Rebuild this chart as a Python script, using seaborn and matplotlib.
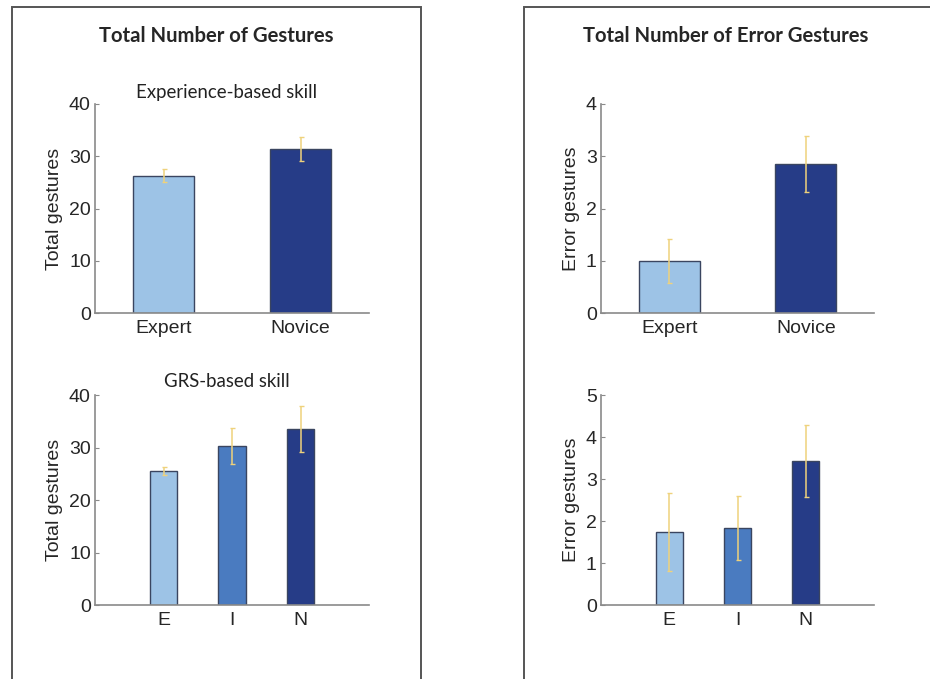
import matplotlib
matplotlib.use("Agg")
import matplotlib.pyplot as plt
from matplotlib.patches import Rectangle
import seaborn as sns
import pandas as pd

# Experience-based skill groups
exp_groups = ["Expert", "Novice"]
exp_total = [26.3, 31.3]
exp_total_err = [1.2, 2.3]
exp_error = [1.0, 2.85]
exp_error_err = [0.42, 0.54]

# GRS-based skill groups
grs_groups = ["E", "I", "N"]
grs_total = [25.6, 30.3, 33.5]
grs_total_err = [0.75, 3.4, 4.35]
grs_error = [1.73, 1.83, 3.43]
grs_error_err = [0.93, 0.76, 0.86]

panel_titles = ["Total Number of Gestures", "Total Number of Error Gestures"]
row_titles = ["Experience-based skill", "GRS-based skill"]

light, mid, dark = "#9DC3E6", "#4A7BC0", "#263C87"
exp_palette = [light, dark]
grs_palette = [light, mid, dark]

sns.set_style("white")
plt.rcParams["font.family"] = ["Liberation Sans", "DejaVu Sans"]

fig = plt.figure(figsize=(9.3, 6.79), dpi=100)
W, H = 930, 679
FS = 14


def px_axes(x0, x1, ytop, ybot):
    return fig.add_axes([x0 / W, 1 - ybot / H, (x1 - x0) / W, (ybot - ytop) / H])


def draw(ax, groups, vals, errs, palette, width, ymax, ylabel, xlim):
    df = pd.DataFrame({"group": groups, "value": vals})
    sns.barplot(data=df, x="group", y="value", hue="group", order=groups,
                hue_order=groups, palette=palette, saturation=1, width=width,
                edgecolor="#3A4560", linewidth=1.0, errorbar=None,
                legend=False, ax=ax)
    ax.errorbar(range(len(groups)), vals, yerr=errs, fmt="none",
                ecolor="#EFD27C", elinewidth=1.1, capsize=1.8, capthick=1.0,
                zorder=5)
    ax.set_xlim(*xlim)
    ax.set_ylim(0, ymax)
    step = 10 if ymax > 10 else 1
    ax.set_yticks(range(0, ymax + 1, step))
    ax.set_xlabel("")
    ax.set_ylabel(ylabel, fontsize=FS, labelpad=4)
    for side in ("top", "right"):
        ax.spines[side].set_visible(False)
    for side in ("left", "bottom"):
        ax.spines[side].set_color("#8A8A8A")
        ax.spines[side].set_linewidth(1.2)
    ax.tick_params(axis="y", direction="in", length=3, color="#8A8A8A",
                   labelsize=FS, pad=3, left=True)
    ax.tick_params(axis="x", length=0, labelsize=FS, pad=5)
    ax.set_facecolor("white")


ax1 = px_axes(95, 369, 104, 313)
draw(ax1, exp_groups, exp_total, exp_total_err, exp_palette, 0.45, 40,
     "Total gestures", (-0.5, 1.5))
ax2 = px_axes(601, 874, 104, 313)
draw(ax2, exp_groups, exp_error, exp_error_err, exp_palette, 0.45, 4,
     "Error gestures", (-0.5, 1.5))
ax3 = px_axes(95, 369, 395, 605)
draw(ax3, grs_groups, grs_total, grs_total_err, grs_palette, 0.4, 40,
     "Total gestures", (-1, 3))
ax4 = px_axes(601, 874, 395, 605)
draw(ax4, grs_groups, grs_error, grs_error_err, grs_palette, 0.4, 5,
     "Error gestures", (-1, 3))

# Row subtitles above the left-hand charts
ax1.text(0.48, 1.057, row_titles[0], transform=ax1.transAxes, ha="center",
         va="center", fontsize=13.4, family=["Lato", "DejaVu Sans"],
         color="#222222")
ax3.text(0.48, 1.062, row_titles[1], transform=ax3.transAxes, ha="center",
         va="center", fontsize=13.4, family=["Lato", "DejaVu Sans"],
         color="#222222")

# Panel titles
fig.text(216 / W, 1 - 36 / H, panel_titles[0], ha="center", va="center",
         fontsize=14.6, fontweight="bold", family=["Lato", "DejaVu Sans"])
fig.text(726 / W, 1 - 36 / H, panel_titles[1], ha="center", va="center",
         fontsize=14.6, fontweight="bold", family=["Lato", "DejaVu Sans"])

# Panel frames
fig.add_artist(Rectangle((12 / W, -0.05), (421 - 12) / W, 1.05 - 7 / H,
                         transform=fig.transFigure, fill=False,
                         edgecolor="#555555", linewidth=1.4))
fig.add_artist(Rectangle((524 / W, -0.05), 0.5, 1.05 - 7 / H,
                         transform=fig.transFigure, fill=False,
                         edgecolor="#555555", linewidth=1.4))

fig.savefig("out.png", dpi=100, facecolor="white")
